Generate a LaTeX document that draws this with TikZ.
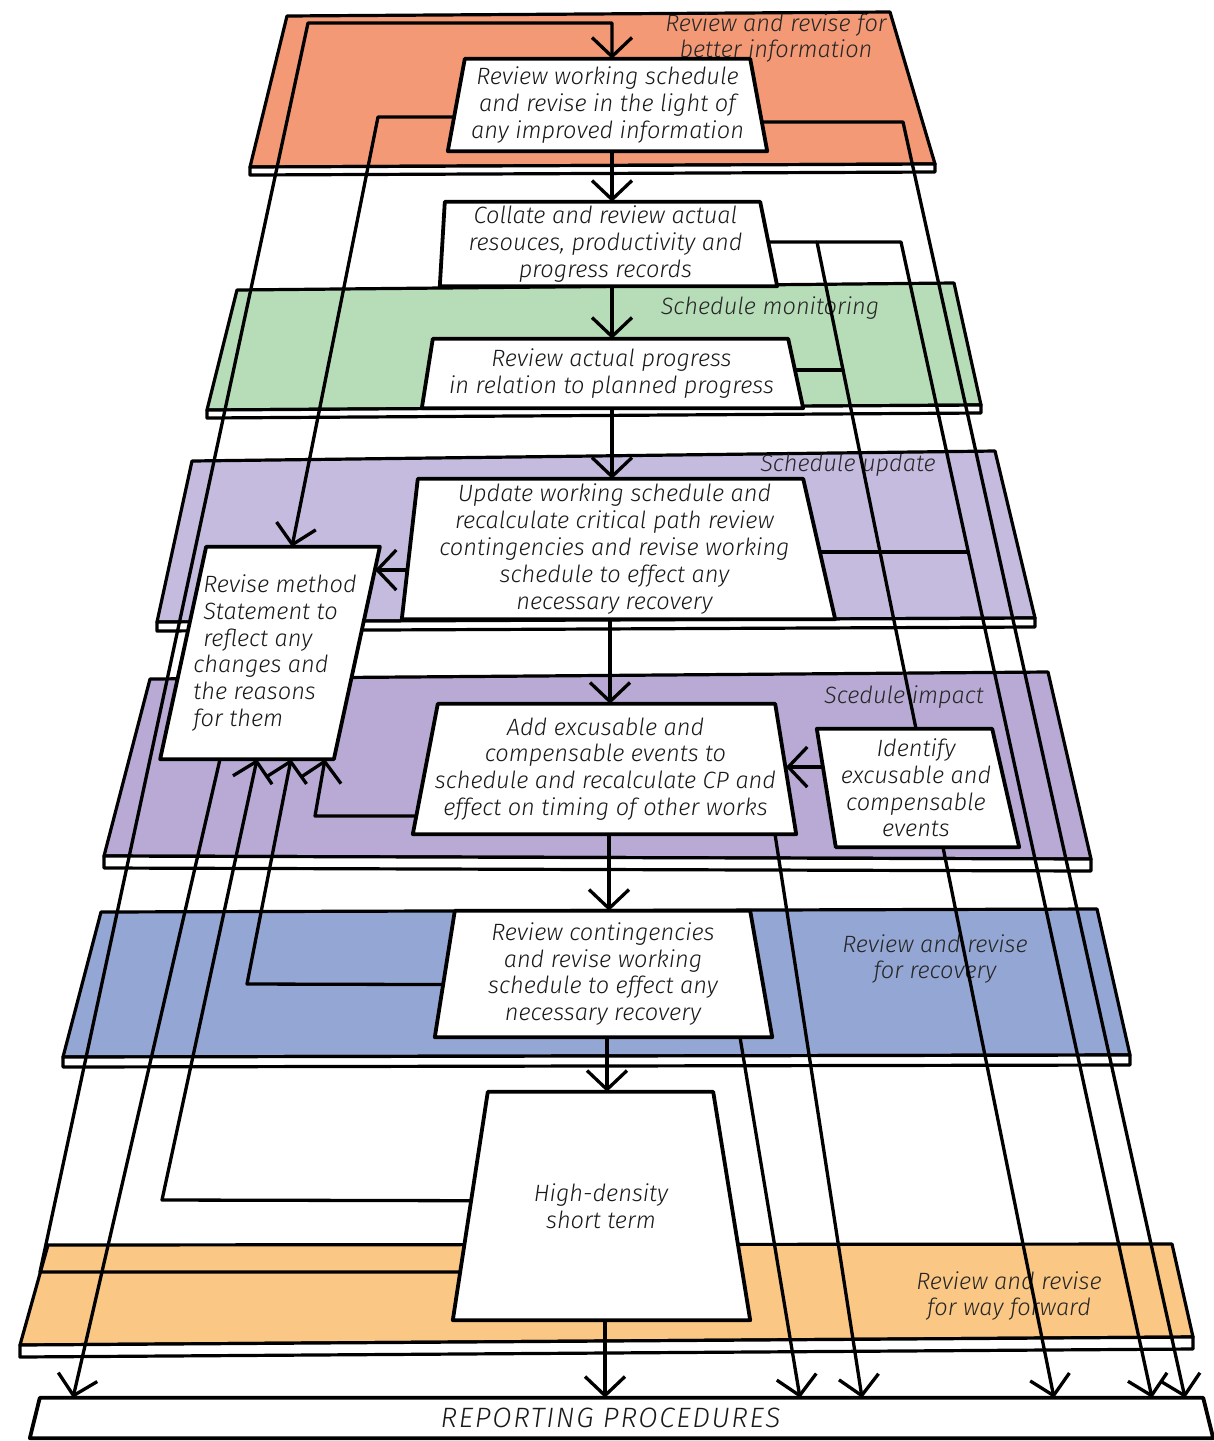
\documentclass[tikz,border=0pt]{standalone}
\usepackage{fontspec}
\newfontfamily\hand{Fira Sans}[ItalicFont={Fira Sans Light Italic}]
\usetikzlibrary{arrows.meta,calc}

\pgfdeclarelayer{bands}
\pgfdeclarelayer{links}
\pgfdeclarelayer{boxes}
\pgfsetlayers{bands,links,boxes,main}

\definecolor{bandorange}{RGB}{243,153,118}
\definecolor{bandgreen}{RGB}{182,221,184}
\definecolor{bandlilac}{RGB}{197,187,222}
\definecolor{bandpurple}{RGB}{184,170,212}
\definecolor{bandblue}{RGB}{148,167,212}
\definecolor{bandamber}{RGB}{251,199,132}

\newcommand\handfont{\hand\itshape\fontsize{23.6}{26.8}\selectfont}
\newcommand\capsfont{\hand\itshape\addfontfeature{LetterSpace=6}\fontsize{28}{30}\selectfont}

\tikzset{
  boxtext/.style={inner sep=0pt, align=center, font=\handfont, text=black!90},
  boxline/.style={draw=black, line width=3.8pt, fill=white, line join=round},
  link/.style={draw=black, line width=3.3pt, line cap=round, line join=round},
  flow/.style={link, -{Straight Barb[length=19pt,width=40pt]}},
  bandline/.style={draw=black, line width=3.2pt, line join=round},
  bandlabel/.style={inner sep=0pt, align=center, font=\handfont, text=black!85},
}

% white trapezoid outline around a text node; #2/#3 = inward shift of the top corners
\newcommand{\boxoutline}[3]{%
  \begin{pgfonlayer}{boxes}
    \path[boxline] ([xshift=#2]#1.north west) -- ([xshift={-(#3)}]#1.north east)
      -- ([xshift=#3]#1.south east) -- ([xshift={-(#2)}]#1.south west) -- cycle;
  \end{pgfonlayer}}

% coloured layer: top face plus the thin front edge below it
\newcommand{\band}[6]{%
  \filldraw[bandline, fill=#1] (#2) -- (#3) -- (#4) -- (#5) -- cycle;
  \filldraw[bandline, fill=white] (#5) -- (#4) -- ($(#4)+(0,#6)$) -- ($(#5)+(0,#6)$) -- cycle;}

\begin{document}
\begin{tikzpicture}[x=1pt,y=-1pt]
\useasboundingbox (0,0) rectangle (1214,1441);

% ---------- layers ----------
\begin{pgfonlayer}{bands}
  \band{bandorange}{287,16}{890,12}{935,164}{250,167}{8}
  \band{bandgreen}{237,290}{954,283}{981,405}{207,410}{8}
  \band{bandlilac}{192,461}{995,451}{1035,618}{157,622}{9}
  \band{bandpurple}{150,679}{1048,672}{1091,859}{104,856}{12}
  \band{bandblue}{101,912}{1097,909}{1130,1055}{63,1057}{10}
  \band{bandamber}{48,1245}{1172,1244}{1193,1337}{20,1345}{12}

  \node[bandlabel] (lab1) at (776,38) {Review and revise for\\better information};
  \node[bandlabel] (lab2) at (770,308) {Schedule monitoring};
  \node[bandlabel] (lab3) at (848,465) {Schedule update};
  \node[bandlabel] (lab4) at (904,697) {Scedule impact};
  \node[bandlabel] (lab5) at (935,959) {Review and revise\\for recovery};
  \node[bandlabel] (lab6) at (1009,1296) {Review and revise\\for way forward};
\end{pgfonlayer}

% ---------- activity boxes ----------
\node[boxtext, minimum width=302pt, minimum height=92pt] (A) at (607.5,105)
  {Review working schedule\\and revise in the light of\\any improved information};
\node[boxtext, minimum width=326pt, minimum height=84pt] (B) at (605.5,244)
  {Collate and review actual\\resouces, productivity and\\progress records};
\node[boxtext, minimum width=368pt, minimum height=69pt] (C) at (611.5,373.5)
  {Review actual progress\\in relation to planned progress};
\node[boxtext, minimum width=409pt, minimum height=140pt] (D) at (614.5,549)
  {Update working schedule and\\recalculate critical path review\\contingencies and revise working\\schedule to effect any\\necessary recovery};
\node[boxtext, align=left, minimum width=172pt, minimum height=212pt] (E) at (270,653)
  {\hspace*{20pt}Revise method\\\hspace*{20pt}Statement to\\\hspace*{20pt}reflect any\\\hspace*{10pt}changes and\\\hspace*{10pt}the reasons\\\hspace*{10pt}for them};
\node[boxtext, minimum width=360pt, minimum height=130pt] (F) at (605.5,769)
  {Add excusable and\\compensable events to\\schedule and recalculate CP and\\effect on timing of other works};
\node[boxtext, minimum width=179pt, minimum height=118pt] (G) at (916,788)
  {Identify\\excusable and\\compensable\\events};
\node[boxtext, minimum width=316pt, minimum height=126pt] (H) at (603,974)
  {Review contingencies\\and revise working\\schedule to effect any\\necessary recovery};
\node[boxtext, minimum width=261pt, minimum height=228pt] (I) at (601,1206)
  {High-density\\short term};
\node[boxtext, font=\capsfont, minimum width=1173pt, minimum height=40pt] (J) at (621.5,1418)
  {REPORTING PROCEDURES\hspace*{22pt}};

\boxoutline{A}{8.5}{8.5}
\boxoutline{B}{2.5}{8.5}
\boxoutline{C}{5.5}{7.5}
\boxoutline{D}{8}{16}
\boxoutline{E}{23}{-23}
\boxoutline{F}{12.5}{10.5}
\boxoutline{G}{-9.5}{13.5}
\boxoutline{H}{10}{11}
\boxoutline{I}{17.5}{18.5}
\boxoutline{J}{5}{5}

% ---------- connectors ----------
\begin{pgfonlayer}{links}
  % main sequence
  \draw[flow] (A.south -| 612,0) -- (B.north -| 612,0);
  \draw[flow] (B.south -| 612,0) -- (C.north -| 612,0);
  \draw[flow] (C.south -| 612,0) -- (D.north -| 612,0);
  \draw[flow] (D.south -| 610,0) -- (F.north -| 610,0);
  \draw[flow] (F.south -| 609,0) -- (H.north -| 609,0);
  \draw[flow] (H.south -| 607,0) -- (I.north -| 607,0);
  \draw[flow] (I.south -| 605,0) -- (J.north -| 605,0);

  % loop from the short-term schedule back to the top
  \draw[flow] (I.center |- 0,1272) -- (40,1272) -- (308,23) -- (612,23) -- (A.north -| 612,0);

  % feeds into the method statement
  \draw[flow] (A.center |- 0,117) -- (378,117) -- (E.north -| 292,0);
  \draw[flow] (D.center |- 0,570) -- (375,570);
  \draw[flow] (F.center |- 0,816) -- (315,816) -- (E.south -| 325,0);
  \draw[flow] (H.center |- 0,985) -- (247,984) -- (E.south -| 291,0);
  \draw[flow] (I.center |- 0,1201) -- (162,1200) -- (E.south -| 257,0);
  \draw[flow] (E.south -| 220,0) -- (J.north -| 73,0);

  % right-hand reporting lines
  \draw[flow] (A.center |- 0,122) -- (903,122) -- (J.north -| 1185,0);
  \draw[flow] (B.center |- 0,242) -- (901,242) -- (J.north -| 1152,0);
  \draw[link] (817,242) -- (G.north -| 916,0);
  \draw[link] (C.center |- 0,370) -- (843,370);
  \draw[link] (D.center |- 0,552) -- (968,552);
  \draw[flow] (G.center |- 0,767) -- (786,767);
  \draw[flow] (G.south -| 943,0) -- (J.north -| 1054,0);
  \draw[flow] (F.south -| 775,0) -- (J.north -| 862,0);
  \draw[flow] (H.south -| 740,0) -- (J.north -| 800,0);
\end{pgfonlayer}
\end{tikzpicture}
\end{document}
